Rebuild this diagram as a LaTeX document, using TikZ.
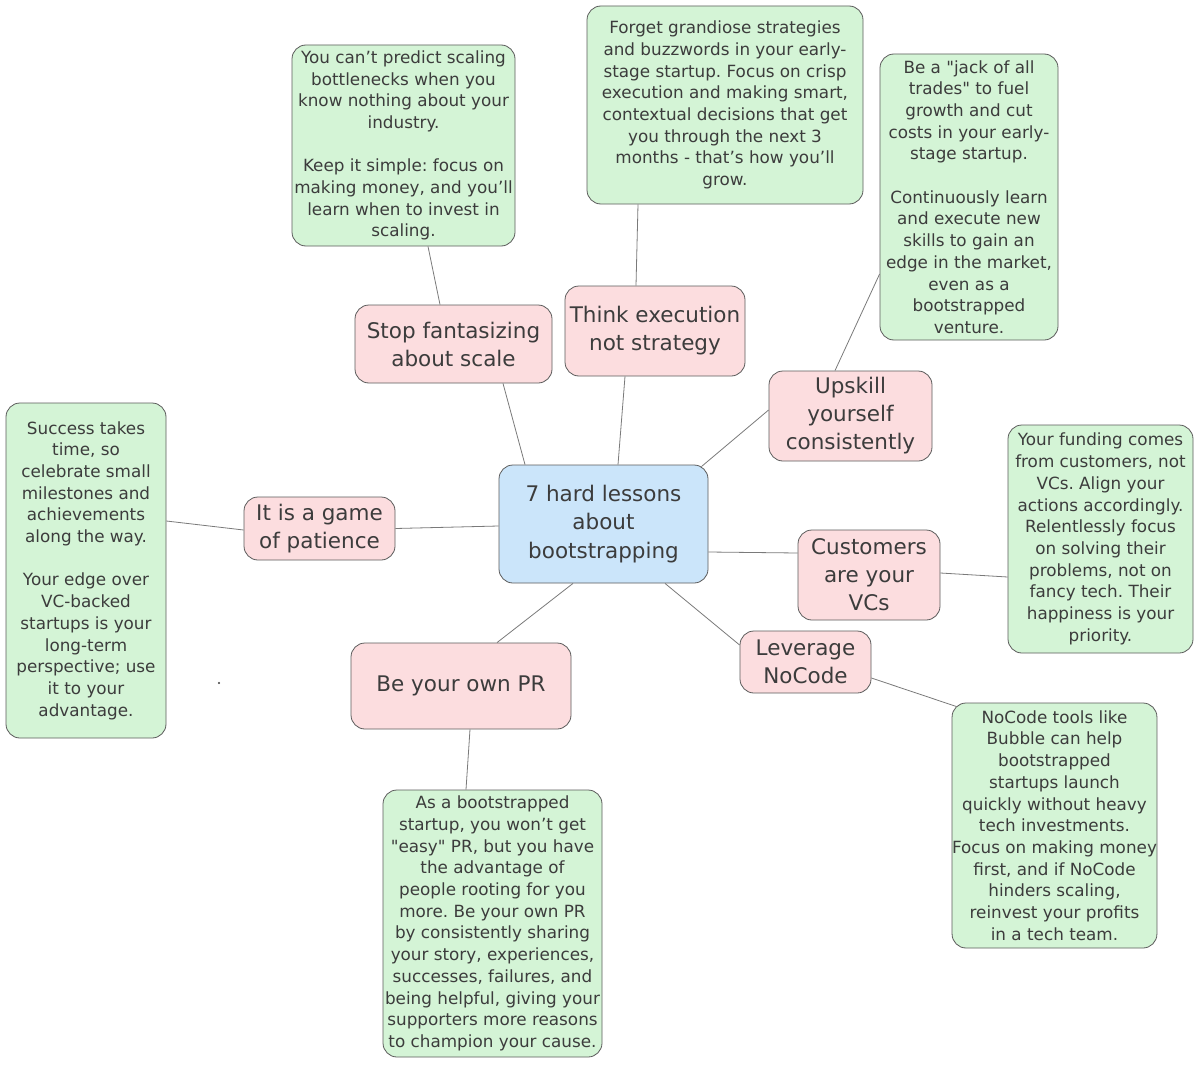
\documentclass[tikz,border=0pt]{standalone}
\usepackage{fontspec}
\setmainfont{DejaVu Sans}
\usetikzlibrary{calc}
\definecolor{gfill}{HTML}{D4F4D6}
\definecolor{pfill}{HTML}{FCDDDF}
\definecolor{bfill}{HTML}{CBE5FA}
\definecolor{edgec}{HTML}{5C5C5C}
\definecolor{txt}{HTML}{3C3C3C}
\definecolor{linkc}{HTML}{7A7A7A}
\frenchspacing
\begin{document}
\begin{tikzpicture}[x=1pt,y=-1pt,
  box/.style={draw=edgec, line width=0.8pt, rounded corners=14pt, align=center, text=txt, inner sep=0pt},
  gbox/.style={box, fill=gfill, font=\fontsize{16.8}{21.7}\selectfont},
  pbox/.style={box, fill=pfill, font=\fontsize{21.5}{28}\selectfont},
  cbox/.style={box, fill=bfill, font=\fontsize{21.5}{28.5}\selectfont},
  link/.style={draw=linkc, line width=0.8pt}]
\fill[white] (0,0) rectangle (1200,1065);
\useasboundingbox (0,0) rectangle (1200,1065);

% central node
\node[cbox, minimum width=209pt, minimum height=118pt] (c) at (603.5,524) {7 hard lessons\\ about\\ bootstrapping};

% pink topic nodes
\node[pbox, minimum width=197pt, minimum height=78pt] (stop) at (453.5,344) {Stop fantasizing\\ about scale};
\node[pbox, minimum width=180pt, minimum height=90pt] (think) at (655,331) {Think execution\\ not strategy};
\node[pbox, minimum width=163pt, minimum height=90pt] (up) at (850.5,416) {Upskill\\ yourself\\ consistently};
\node[pbox, minimum width=151pt, minimum height=63pt] (game) at (319.5,528.5) {It is a game\\ of patience};
\node[pbox, minimum width=142pt, minimum height=90pt] (cust) at (869,575) {Customers\\ are your\\ VCs};
\node[pbox, minimum width=131pt, minimum height=62pt] (lev) at (805.5,662) {Leverage\\ NoCode};
\node[pbox, minimum width=220pt, minimum height=86pt] (pr) at (461,686) {Be your own PR};

% green detail nodes
\node[gbox, minimum width=223pt, minimum height=201pt] (g1) at (403.5,145.5) {You can't predict scaling\\ bottlenecks when you\\ know nothing about your\\ industry.\\[21.7pt] Keep it simple: focus on\\ making money, and you'll\\ learn when to invest in\\ scaling.};
\node[gbox, minimum width=276pt, minimum height=198pt] (g2) at (725,105) {Forget grandiose strategies\\ and buzzwords in your early-\\ stage startup. Focus on crisp\\ execution and making smart,\\ contextual decisions that get\\ you through the next 3\\ months - that's how you'll\\ grow.};
\node[gbox, minimum width=178pt, minimum height=286pt] (g3) at (969,197) {Be a \textquotedbl jack of all\\ trades\textquotedbl\ to fuel\\ growth and cut\\ costs in your early-\\ stage startup.\\[21.7pt] Continuously learn\\ and execute new\\ skills to gain an\\ edge in the market,\\ even as a\\ bootstrapped\\ venture.};
\node[gbox, minimum width=160pt, minimum height=335pt] (g4) at (86,570.5) {Success takes\\ time, so\\ celebrate small\\ milestones and\\ achievements\\ along the way.\\[21.7pt] Your edge over\\ VC-backed\\ startups is your\\ long-term\\ perspective; use\\ it to your\\ advantage.};
\node[gbox, minimum width=185pt, minimum height=228pt] (g5) at (1100.5,539) {Your funding comes\\ from customers, not\\ VCs. Align your\\ actions accordingly.\\ Relentlessly focus\\ on solving their\\ problems, not on\\ fancy tech. Their\\ happiness is your\\ priority.};
\node[gbox, minimum width=203pt, minimum height=245pt] (g6) at (1054.5,825.5) {NoCode tools like\\ Bubble can help\\ bootstrapped\\ startups launch\\ quickly without heavy\\ tech investments.\\ Focus on making money\\ first, and if NoCode\\ hinders scaling,\\ reinvest your profits\\ in a tech team.};
\node[gbox, minimum width=219pt, minimum height=267pt] (g7) at (492.5,923.5) {As a bootstrapped\\ startup, you won't get\\ \textquotedbl easy\textquotedbl\ PR, but you have\\ the advantage of\\ people rooting for you\\ more. Be your own PR\\ by consistently sharing\\ your story, experiences,\\ successes, failures, and\\ being helpful, giving your\\ supporters more reasons\\ to champion your cause.};

% connectors: centre to topics
\draw[link] ([xshift=-78.5pt]c.north) -- ([xshift=49.5pt]stop.south);
\draw[link] ([xshift=14.5pt]c.north) -- ([xshift=-30pt]think.south);
\draw[link] ([xshift=-7pt,yshift=-2pt]c.north east) -- ([yshift=6pt]up.west);
\draw[link] ([yshift=-2pt]c.west) -- (game.east);
\draw[link] ([yshift=-28pt]c.east) -- ([yshift=22pt]cust.west);
\draw[link] ([xshift=61.5pt]c.south) -- ([yshift=17pt]lev.west);
\draw[link] ([xshift=-30.5pt]c.south) -- ([xshift=36pt]pr.north);

% connectors: topics to details
\draw[link] ([xshift=-13.5pt]stop.north) -- ([xshift=24.5pt]g1.south);
\draw[link] ([xshift=-19pt]think.north) -- ([xshift=-87pt]g2.south);
\draw[link] ([xshift=-15.5pt]up.north) -- ([yshift=-77pt]g3.west);
\draw[link] ([yshift=-1.5pt]game.west) -- ([yshift=49.5pt]g4.east);
\draw[link] ([yshift=2pt]cust.east) -- ([yshift=-38pt]g5.west);
\draw[link] ([yshift=-16pt]lev.east) -- ([xshift=5pt,yshift=-4pt]g6.north west);
\draw[link] ([xshift=9pt]pr.south) -- ([xshift=-26.5pt]g7.north);

% stray dot
\fill[txt] (219,683) circle (1.1pt);
\end{tikzpicture}
\end{document}
